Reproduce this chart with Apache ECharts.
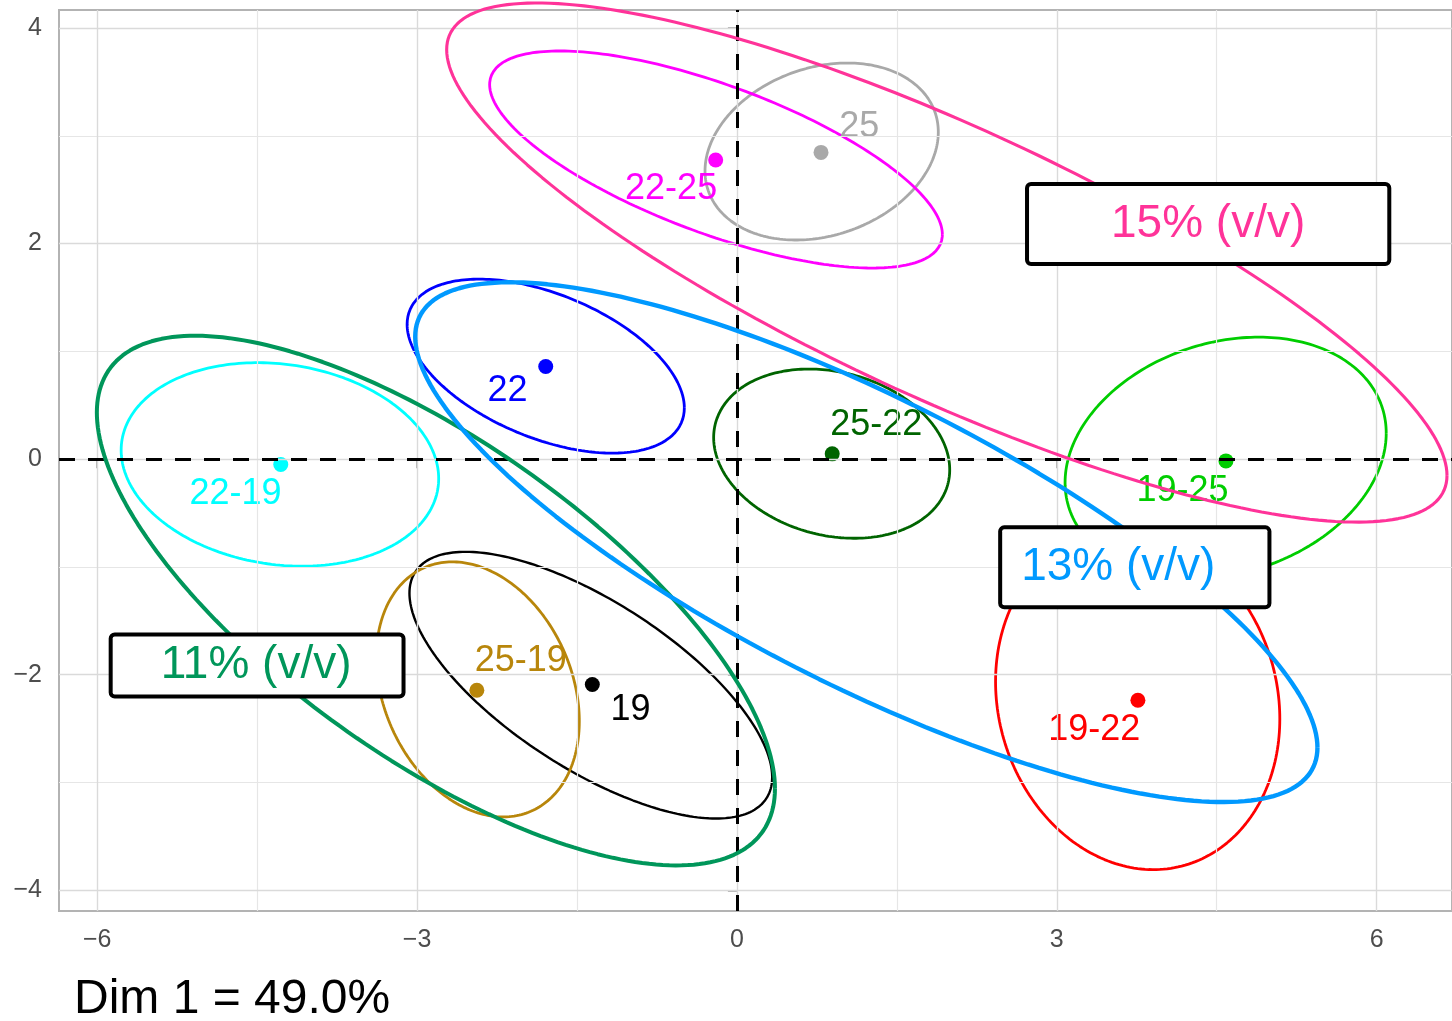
<!DOCTYPE html>
<html><head><meta charset="utf-8">
<script src="https://cdn.jsdelivr.net/npm/echarts@6/dist/echarts.min.js"></script>
<style>html,body{margin:0;padding:0;background:#fff}#c{width:1452px;height:1021px}</style>
</head><body><div id="c"></div>
<script>
// ---- data ----
const sampleNames = ['19','22','25','19-22','19-25','22-19','22-25','25-19','25-22'];
const dim1 = [-1.356,-1.793,0.789,3.761,4.587,-4.278,-0.199,-2.439,0.894];
const dim2 = [-2.091,0.860,2.846,-2.237,-0.016,-0.049,2.775,-2.144,0.049];
const labelX = [-0.998,-2.152,1.148,3.351,4.180,-4.703,-0.617,-2.028,1.307];
const labelY = [-2.327,0.629,3.077,-2.515,-0.295,-0.325,2.504,-1.872,0.314];

const ellipseNames = ['19','22','25','19-22','19-25','22-19','22-25','25-19','25-22','11%','13%','15%'];
const ellipseCx  = [-1.370,-1.793,0.795,3.759,4.584,-4.286,-0.196,-2.430,0.889,-2.823,1.214,1.969];
const ellipseCy  = [-2.097,0.863,2.854,-2.237,0.012,-0.049,2.780,-2.136,0.051,-1.312,-0.770,1.824];
const ellipseSx  = [1.701,1.300,1.094,1.333,1.506,1.489,2.123,0.952,1.107,3.180,4.231,4.691];
const ellipseSy  = [1.237,0.807,0.821,1.571,1.120,0.944,1.007,1.183,0.785,2.457,2.411,2.408];
const ellipseRho = [-0.69,-0.48,0.22,-0.11,0.205,-0.14,-0.69,-0.25,-0.19,-0.71,-0.79,-0.82];

const groupNames = ['11% (v/v)','13% (v/v)','15% (v/v)'];
const groupKeys = ['11%','13%','15%'];
const groupX = [-4.500,3.732,4.420];
const groupY = [-1.915,-1.004,2.181];

const xTicks = [-6,-3,0,3,6];
const xMinor = [-4.5,-1.5,1.5,4.5];
const yTicks = [-4,-2,0,2,4];
const yMinor = [-3,-1,1,3];
const xTitle = 'Dim 1 = 49.0%';

// ---- styles ----
const colorOf = {'19':'#000000','22':'#0000FF','25':'#A9A9A9','19-22':'#FF0000','19-25':'#00CD00',
  '22-19':'#00FFFF','22-25':'#FF00FF','25-19':'#B8860B','25-22':'#006400',
  '11%':'#00965A','13%':'#0099FF','15%':'#FF3399'};
const widthOf = {'11%':4,'13%':4.4,'15%':3.1,'19':2.4};
const boxPadding = {'11%':[6,50,6,48],'13%':[15,52,15,19],'15%':[15,82,15,82]};
const FONT = "'Liberation Sans', Arial, Helvetica, sans-serif";
const tickFmt = v => String(v).replace('-', '\u2212');

function ellipsePoints(cx, cy, sx, sy, rho) {
  const pts = [];
  const n = 240, k = Math.sqrt(1 - rho * rho);
  for (let i = 0; i <= n; i++) {
    const t = 2 * Math.PI * i / n;
    pts.push([cx + sx * Math.cos(t), cy + sy * (rho * Math.cos(t) + k * Math.sin(t))]);
  }
  return pts;
}

const series = [];
// grid lines
series.push({type:'line', data:[], silent:true, z:0, animation:false,
  markLine:{silent:true, animation:false, symbol:['none','none'], label:{show:false},
    lineStyle:{color:'#E6E6E6', width:1.2, type:'solid', opacity:1}, emphasis:{disabled:true},
    data: xMinor.map(v=>({xAxis:v})).concat(yMinor.map(v=>({yAxis:v})))}});
series.push({type:'line', data:[], silent:true, z:0, animation:false,
  markLine:{silent:true, animation:false, symbol:['none','none'], label:{show:false},
    lineStyle:{color:'#DADADA', width:1.4, type:'solid', opacity:1}, emphasis:{disabled:true},
    data: xTicks.map(v=>({xAxis:v})).concat(yTicks.map(v=>({yAxis:v})))}});
// zero dashed lines
series.push({type:'line', data:[], silent:true, z:1, animation:false,
  markLine:{silent:true, animation:false, symbol:['none','none'], label:{show:false},
    lineStyle:{color:'#000', width:3, type:[16,13], opacity:1}, emphasis:{disabled:true},
    data:[{xAxis:0},{yAxis:0}]}});
// ellipses
ellipseNames.forEach((n,i)=>{
  const isGroup = n.indexOf('%') >= 0;
  series.push({type:'line', name:n, data: ellipsePoints(ellipseCx[i], ellipseCy[i], ellipseSx[i], ellipseSy[i], ellipseRho[i]),
    symbol:'none', showSymbol:false, clip:false, silent:true, animation:false, z: isGroup ? 5 : 2,
    lineStyle:{color: colorOf[n], width: widthOf[n] || 2.8, opacity:1}});
});
// points
series.push({type:'scatter', symbolSize:15, z:3, silent:true, animation:false,
  itemStyle:{opacity:1},
  data: sampleNames.map((n,i)=>({value:[dim1[i], dim2[i]], itemStyle:{color: colorOf[n], opacity:1}}))});
// point labels
series.push({type:'scatter', symbolSize:0, z:4, silent:true, animation:false,
  itemStyle:{opacity:1},
  data: sampleNames.map((n,i)=>({value:[labelX[i], labelY[i]], name:n,
    label:{show:true, position:'inside', formatter:n, color: colorOf[n], fontSize:36, fontFamily:FONT,
      lineHeight:36, textBorderWidth:0, opacity:1}}))});
// group boxes
series.push({type:'scatter', symbolSize:0, z:6, silent:true, animation:false,
  itemStyle:{opacity:1},
  data: groupNames.map((n,i)=>({value:[groupX[i], groupY[i]], name:n,
    label:{show:true, position:'inside', formatter:n, color: colorOf[groupKeys[i]], fontSize:46, lineHeight:46,
      fontFamily:FONT, backgroundColor:'#fff', borderColor:'#000', borderWidth:4, borderRadius:2,
      textBorderWidth:0, textShadowBlur:0, shadowBlur:0, opacity:1,
      padding: boxPadding[groupKeys[i]]}}))});

const chart = echarts.init(document.getElementById('c'), null, {renderer:'canvas'});
chart.setOption({
  animation:false,
  backgroundColor:'#fff',
  title:{text:xTitle, left:69, top:971, textStyle:{fontSize:48, fontWeight:'normal', color:'#000', fontFamily:FONT, lineHeight:48}},
  grid:{left:59, top:10, right:-4, bottom:110, show:true, borderColor:'#B3B3B3', borderWidth:2, backgroundColor:'transparent', containLabel:false},
  xAxis:{type:'value', min:-6.358, max:6.707,
    axisLine:{show:false}, splitLine:{show:false},
    axisTick:{show:true, length:9, lineStyle:{color:'#B3B3B3', width:2}, customValues:xTicks},
    axisLabel:{customValues:xTicks, formatter:tickFmt, fontSize:25, lineHeight:25, color:'#4D4D4D', margin:17, fontFamily:FONT}},
  yAxis:{type:'value', min:-4.192, max:4.167,
    axisLine:{show:false}, splitLine:{show:false},
    axisTick:{show:true, length:9, lineStyle:{color:'#B3B3B3', width:2}, customValues:yTicks},
    axisLabel:{customValues:yTicks, formatter:tickFmt, fontSize:25, lineHeight:25, color:'#4D4D4D', margin:17, fontFamily:FONT}},
  series
});
</script></body></html>
